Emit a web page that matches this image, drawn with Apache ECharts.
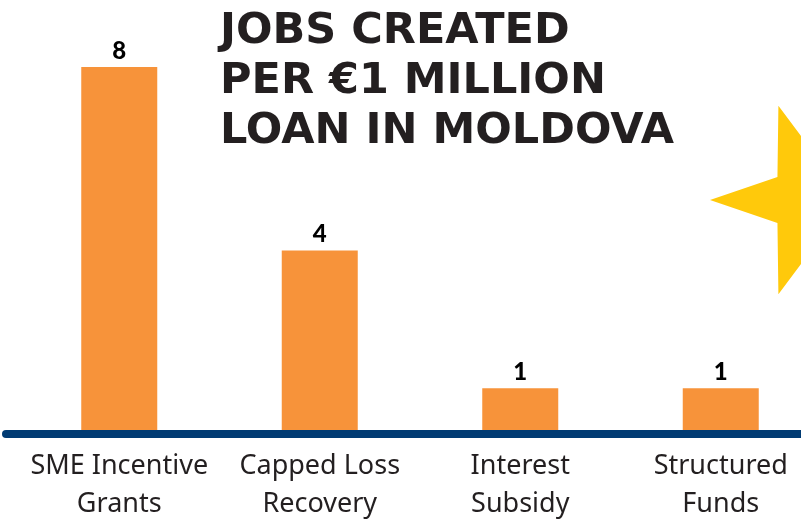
<!DOCTYPE html>
<html>
<head>
<meta charset="utf-8">
<script src="https://cdn.jsdelivr.net/npm/echarts@6/dist/echarts.min.js"></script>
<style>
  html, body { margin: 0; padding: 0; background: #ffffff; }
  #chart { width: 801px; height: 521px; }
</style>
</head>
<body>
<div id="chart"></div>
<script>
// Jobs created per EUR 1 million of lending, by instrument
const categories = ['SME Incentive\nGrants', 'Capped Loss\nRecovery', 'Interest\nSubsidy', 'Structured\nFunds'];
const jobs = [8, 4, 1, 1];
const titleLines = ['JOBS CREATED', 'PER €1 MILLION', 'LOAN IN MOLDOVA'];

const ORANGE = '#F7933A';
const NAVY = '#013B73';
const INK = '#231F20';
const GOLD = '#FFC90B';

// five-pointed star, one tip pointing left, partly off the right edge
function starPoints(cx, cy, R, r) {
  const pts = [];
  for (let k = 0; k < 10; k++) {
    const a = Math.PI + k * Math.PI / 5;
    const rad = k % 2 === 0 ? R : r;
    pts.push([cx + rad * Math.cos(a), cy - rad * Math.sin(a)]);
  }
  return pts;
}

const chart = echarts.init(document.getElementById('chart'), null, { renderer: 'canvas' });
chart.setOption({
  backgroundColor: '#ffffff',
  animation: false,
  title: {
    text: titleLines.join('\n'),
    left: 215,
    top: 2,
    textStyle: {
      fontFamily: 'DejaVu Sans',
      fontWeight: 'bold',
      fontSize: 43,
      lineHeight: 50,
      color: INK
    }
  },
  graphic: [{
    type: 'polygon',
    z: 0,
    shape: { points: starPoints(809, 200, 99, 39) },
    style: { fill: GOLD }
  }],
  grid: [
    { left: 19, width: 802, top: 67, bottom: 87, containLabel: false, outerBoundsMode: 'none' },
    { left: 6, right: 0, top: 67, bottom: 87, containLabel: false, outerBoundsMode: 'none' }
  ],
  xAxis: [{
    type: 'category',
    gridIndex: 0,
    data: categories,
    axisLine: { show: false },
    axisTick: { show: false },
    axisLabel: {
      interval: 0,
      margin: 13,
      fontFamily: 'Noto Sans',
      fontSize: 27,
      lineHeight: 38,
      color: INK
    }
  }, {
    type: 'category',
    gridIndex: 1,
    data: [''],
    z: 10,
    axisLine: { show: true, lineStyle: { color: NAVY, width: 8 } },
    axisTick: { show: false },
    axisLabel: { show: false }
  }],
  yAxis: [
    { type: 'value', gridIndex: 0, min: 0, max: 8, show: false },
    { type: 'value', gridIndex: 1, min: 0, max: 8, show: false }
  ],
  series: [{
    type: 'bar',
    xAxisIndex: 0,
    yAxisIndex: 0,
    data: jobs,
    barWidth: 76,
    itemStyle: { color: ORANGE },
    label: {
      show: true,
      position: 'top',
      distance: 4,
      fontFamily: 'Lato',
      fontWeight: 900,
      fontSize: 24,
      color: '#000000'
    }
  }]
});
</script>
</body>
</html>
